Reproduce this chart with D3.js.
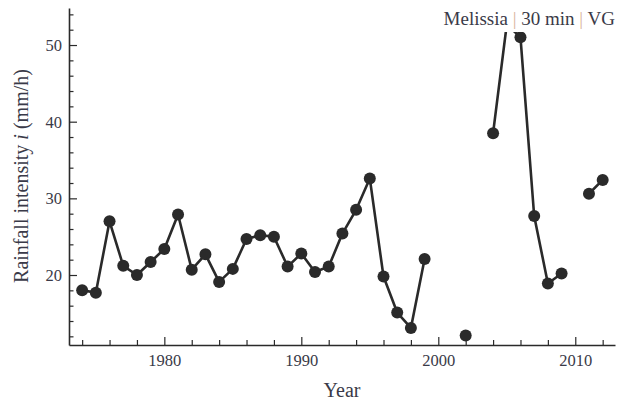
<!DOCTYPE html>
<html><head><meta charset="utf-8">
<script src="https://cdn.jsdelivr.net/npm/d3@7"></script>
<style>body{margin:0;background:#fff}svg{display:block}</style>
</head><body>
<script>
const years = [1974,1975,1976,1977,1978,1979,1980,1981,1982,1983,1984,1985,1986,1987,1988,1989,1990,1991,1992,1993,1994,1995,1996,1997,1998,1999,2000,2001,2002,2003,2004,2005,2006,2007,2008,2009,2010,2011,2012];
const intensity = [18.0,17.7,27.0,21.2,20.0,21.7,23.4,27.9,20.7,22.7,19.1,20.8,24.7,25.2,25.0,21.1,22.8,20.4,21.1,25.4,28.5,32.6,19.8,15.1,13.1,22.1,null,null,12.1,null,38.5,52.7,51.0,27.7,18.9,20.2,null,30.6,32.4];
const xMajorTicks = [1980,1990,2000,2010];
const yMajorTicks = [20,30,40,50];
const titleParts = ["Melissia", "30 min", "VG"];

const W = 617, H = 403;
const svg = d3.select("body").append("svg").attr("width", W).attr("height", H);
const x = d3.scaleLinear().domain([1973.04, 2012.9]).range([69, 615]);
const y = d3.scaleLinear().domain([10.87, 54.83]).range([345, 8]);
const axisColor = "#2a2a2a";
const font = "'Liberation Serif','Times New Roman',serif";
const textColor = "#3a3a48";

svg.append("clipPath").attr("id","clip").append("rect")
  .attr("x", 69).attr("y", 32).attr("width", 546).attr("height", 313);

const data = years.map((yr,i)=>({yr, v:intensity[i]}));
const line = d3.line().defined(d=>d.v!==null).x(d=>x(d.yr)).y(d=>y(d.v));
const g = svg.append("g").attr("clip-path","url(#clip)");
g.append("path").datum(data).attr("d", line).attr("fill","none")
  .attr("stroke","#2a2a2a").attr("stroke-width",2.6).attr("stroke-linejoin","round");
g.selectAll("circle").data(data.filter(d=>d.v!==null)).join("circle")
  .attr("cx", d=>x(d.yr)).attr("cy", d=>y(d.v)).attr("r", 6).attr("fill","#2a2a2a");

// X axis
const xAxis = d3.axisBottom(x).tickValues(d3.range(1974, 2013, 2)).tickSize(0).tickFormat("");
const gx = svg.append("g").attr("transform","translate(0,345)").call(xAxis);
gx.select(".domain").attr("stroke", axisColor).attr("stroke-width",1.6);
gx.selectAll(".tick line").attr("stroke", axisColor).attr("stroke-width",1.2)
  .attr("y2", d=> xMajorTicks.includes(d) ? -8 : -5);
gx.selectAll(".tick").filter(d=>xMajorTicks.includes(d)).append("text")
  .attr("y", 21).attr("text-anchor","middle").attr("fill", textColor)
  .style("font-family", font).style("font-size","16.5px").text(d=>d);

// Y axis
const yAxis = d3.axisLeft(y).tickValues(d3.range(12, 55, 2)).tickSize(0).tickFormat("");
const gy = svg.append("g").attr("transform","translate(69,0)").call(yAxis);
gy.select(".domain").attr("stroke", axisColor).attr("stroke-width",1.6);
gy.selectAll(".tick line").attr("stroke", axisColor).attr("stroke-width",1.2)
  .attr("x2", d=> yMajorTicks.includes(d) ? 8 : 4.5);
gy.selectAll(".tick").filter(d=>yMajorTicks.includes(d)).append("text")
  .attr("x", -7).attr("y", 5.5).attr("text-anchor","end").attr("fill", textColor)
  .style("font-family", font).style("font-size","16.5px").text(d=>d);

// Axis titles
svg.append("text").attr("x", 342).attr("y", 397).attr("text-anchor","middle")
  .attr("fill", textColor).style("font-family", font).style("font-size","20px").text("Year");
const yt = svg.append("text").attr("transform","translate(28,176) rotate(-90)")
  .attr("text-anchor","middle").attr("fill", textColor)
  .style("font-family", font).style("font-size","20px");
yt.append("tspan").text("Rainfall intensity ");
yt.append("tspan").style("font-style","italic").text("i");
yt.append("tspan").text(" (mm/h)");

// Plot label
const t = svg.append("text").attr("x", 615).attr("y", 25).attr("text-anchor","end")
  .attr("fill", textColor).style("font-family", font).style("font-size","19px");
titleParts.forEach((p,i)=>{
  if(i>0) t.append("tspan").attr("fill","#d9b49a").text(" | ");
  t.append("tspan").text(p);
});
</script>
</body></html>
